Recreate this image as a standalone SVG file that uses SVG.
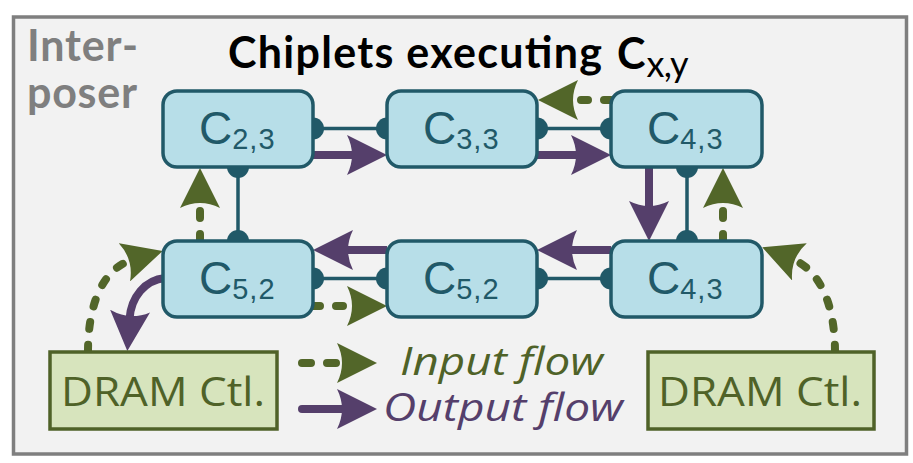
<svg xmlns="http://www.w3.org/2000/svg" width="913" height="463" viewBox="0 0 913 463">
<defs>
<marker id="ah-out" markerUnits="userSpaceOnUse" viewBox="0 0 40 40" markerWidth="40" markerHeight="40" refX="8" refY="20" orient="auto">
<path d="M0,0 L40,20 L0,40 Q10,20 0,0 Z" fill="#553f6b"/>
</marker>
<marker id="ah-in" markerUnits="userSpaceOnUse" viewBox="0 0 40 40" markerWidth="40" markerHeight="40" refX="8" refY="20" orient="auto">
<path d="M0,0 L40,20 L0,40 Q10,20 0,0 Z" fill="#526629"/>
</marker>
</defs>
<style>
.frame{fill:#f2f2f2;stroke:#7f7f7f;stroke-width:3.5}
.node rect{fill:#b7dee8;stroke:#215968;stroke-width:3.5}
.nt{font-family:"Liberation Sans",Arial,sans-serif;font-size:46px;fill:#215968}
.sub{font-size:29px;letter-spacing:1px}
.link{stroke:#215968;stroke-width:3.5;fill:none}
.dot{fill:#215968}
.out{stroke:#553f6b;stroke-width:8;fill:none;marker-end:url(#ah-out)}
.in{stroke:#526629;stroke-width:8;fill:none;stroke-dasharray:7 16;stroke-linecap:round;marker-end:url(#ah-in)}
.dram rect{fill:#d7e4bd;stroke:#4f6228;stroke-width:3.5}
.dt{font-family:"Open Sans",Lato,sans-serif;font-size:41px;fill:#4f6228}
.title{font-family:Lato,"Open Sans",sans-serif;font-weight:bold;font-size:43px;fill:#000}
.inter{font-family:Lato,"Open Sans",sans-serif;font-weight:bold;font-size:43px;fill:#7f7f7f}
.leg{font-family:"Open Sans",Lato,sans-serif;font-style:italic;font-size:39px}
</style>
<rect class="frame" x="13.5" y="17" width="893" height="437"/>
<text class="inter" x="27" y="61" textLength="111">Inter-</text>
<text class="inter" x="27" y="108" textLength="110">poser</text>
<text class="title" x="228" y="68" textLength="374">Chiplets executing</text>
<text class="title" x="617" y="69" font-size="47">C<tspan dx="1" y="77" font-size="36" font-weight="normal" textLength="42">x,y</tspan></text>

<g id="connectors">
<g id="links">
<path class="link" d="M313,128.5 H387 M537,128.5 H611 M313,278.5 H387 M537,278.5 H611 M238,167 V241 M687,167 V241"/>
<circle class="dot" cx="313" cy="128.5" r="11"/><circle class="dot" cx="387" cy="128.5" r="11"/>
<circle class="dot" cx="537" cy="128.5" r="11"/><circle class="dot" cx="611" cy="128.5" r="11"/>
<circle class="dot" cx="313" cy="278.5" r="11"/><circle class="dot" cx="387" cy="278.5" r="11"/>
<circle class="dot" cx="537" cy="278.5" r="11"/><circle class="dot" cx="611" cy="278.5" r="11"/>
<circle class="dot" cx="238" cy="167" r="11"/><circle class="dot" cx="238" cy="241" r="11"/>
<circle class="dot" cx="687" cy="167" r="11"/><circle class="dot" cx="687" cy="241" r="11"/>
</g>
<path class="out" d="M313,155 H355"/>
<path class="out" d="M537,155 H579"/>
<path class="out" d="M649,167 V209"/>
<path class="out" d="M611,250 H569"/>
<path class="out" d="M387,250 H345"/>
<path class="out" d="M165,278 C145,280 131,297 129.5,319"/>
<path class="in" d="M611,100 H570"/>
<path class="in" d="M200,241 V200"/>
<path class="in" d="M723,241 V200"/>
<path class="in" d="M313,306 H355"/>
<path class="in" d="M88,352 C88,300 105,268 132,260"/>
<path class="in" d="M835,352 C835,305 820,270 792,259"/>
<path class="in" style="stroke-dasharray:9 16" d="M302,363 H345"/>
<path class="out" style="stroke-linecap:round" d="M302,409 H345"/>
</g>

<g id="n23" class="node"><rect x="163" y="91" width="150" height="76" rx="14"/><text class="nt" x="199" y="144">C<tspan class="sub" y="149">2,3</tspan></text></g>
<g id="n33" class="node"><rect x="387" y="91" width="150" height="76" rx="14"/><text class="nt" x="423" y="144">C<tspan class="sub" y="149">3,3</tspan></text></g>
<g id="n43a" class="node"><rect x="611" y="91" width="151" height="76" rx="14"/><text class="nt" x="647" y="144">C<tspan class="sub" y="149">4,3</tspan></text></g>
<g id="n52a" class="node"><rect x="163" y="241" width="150" height="76" rx="14"/><text class="nt" x="199" y="294">C<tspan class="sub" y="299">5,2</tspan></text></g>
<g id="n52b" class="node"><rect x="387" y="241" width="150" height="76" rx="14"/><text class="nt" x="423" y="294">C<tspan class="sub" y="299">5,2</tspan></text></g>
<g id="n43b" class="node"><rect x="611" y="241" width="151" height="76" rx="14"/><text class="nt" x="647" y="294">C<tspan class="sub" y="299">4,3</tspan></text></g>

<g id="dram1" class="dram"><rect x="50" y="352" width="227" height="77"/><text class="dt" x="61" y="406" textLength="204" lengthAdjust="spacingAndGlyphs">DRAM Ctl.</text></g>
<g id="dram2" class="dram"><rect x="648" y="352" width="226" height="77"/><text class="dt" x="658" y="406" textLength="204" lengthAdjust="spacingAndGlyphs">DRAM Ctl.</text></g>

<g id="legend">
<text class="leg" x="400" y="375" fill="#4f6228" textLength="203" lengthAdjust="spacingAndGlyphs">Input flow</text>
<text class="leg" x="383" y="421" fill="#553f6b" textLength="240" lengthAdjust="spacingAndGlyphs">Output flow</text>
</g>
</svg>
